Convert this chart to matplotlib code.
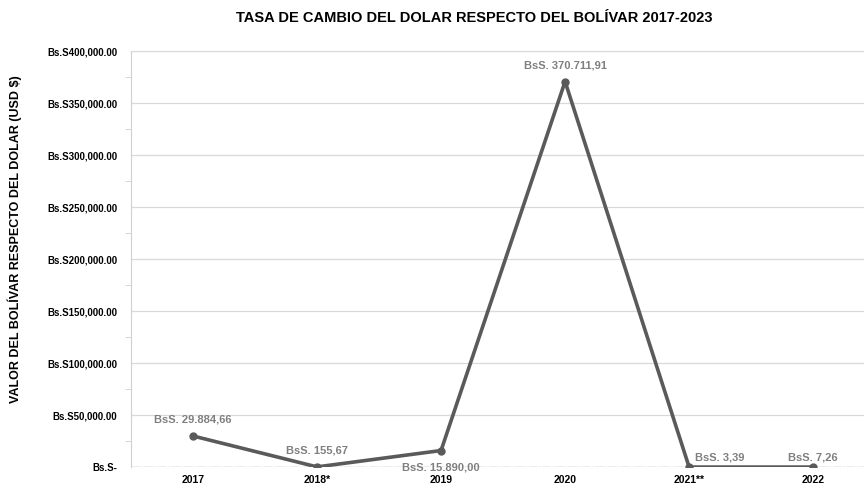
import matplotlib.pyplot as plt
import numpy as np

years = ["2017", "2018*", "2019", "2020", "2021**", "2022"]
rate = [29884.66, 155.67, 15890.00, 370711.91, 3.39, 7.26]
rate_labels = ["BsS. 29.884,66", "BsS. 155,67", "BsS. 15.890,00",
               "BsS. 370.711,91", "BsS. 3,39", "BsS. 7,26"]
yticks = [0, 50000, 100000, 150000, 200000, 250000, 300000, 350000, 400000]

plt.rcParams['font.family'] = ['Liberation Sans', 'DejaVu Sans']

fig = plt.figure(figsize=(8.64, 4.84), dpi=100)
ax = fig.add_axes([0.1516, 0.035, 1.0 - 0.1516, 0.8595])

x = np.arange(len(years))
ax.plot(x, rate, color="#5a5a5a", lw=2.6, marker="o", ms=5, zorder=3)

# where each label sits relative to its point (points offset)
offs = [(0, 8), (0, 8), (0, -12), (0, 8), (4, 3), (0, 3)]
has = ["center", "center", "center", "center", "left", "center"]
for xi, yi, lab, (dx, dy), ha in zip(x, rate, rate_labels, offs, has):
    ax.annotate(lab, (xi, yi), xytext=(dx, dy), textcoords="offset points",
                ha=ha, va="bottom" if dy > 0 else "center",
                color="#7f7f7f", fontsize=8, fontweight="bold", zorder=4)

ax.set_xlim(-0.5, 5.41)
ax.set_ylim(0, 400000)
ax.set_xticks(x)
ax.set_xticklabels(years, fontsize=7.5, fontweight="bold")
ax.set_yticks(yticks)
ax.set_yticklabels(["Bs.S-" if v == 0 else "Bs.S{:,.2f}".format(v) for v in yticks],
                   fontsize=7, fontweight="bold")
ax.set_yticks(np.arange(25000, 400000, 50000), minor=True)
ax.tick_params(axis="y", which="major", length=0, pad=10)
ax.tick_params(axis="y", which="minor", length=4, color="#d0d0d0", direction="out")
ax.tick_params(axis="x", length=0, pad=6)

ax.grid(axis="y", color="#d9d9d9", lw=0.9)
ax.axhline(0, color="#909090", lw=0.9, ls="-.", zorder=2)

for s in ["right", "bottom"]:
    ax.spines[s].set_visible(False)
ax.spines["left"].set_color("#d0d0d0")
ax.spines["top"].set_color("#d9d9d9")

fig.text(0.549, 0.962, "TASA DE CAMBIO DEL DOLAR RESPECTO DEL BOLÍVAR 2017-2023",
         ha="center", va="center", fontsize=10.5, fontweight="bold")
fig.text(0.017, 0.505, "VALOR DEL BOLÍVAR RESPECTO DEL DOLAR (USD $)",
         rotation=90, ha="center", va="center", fontsize=9, fontweight="bold")

fig.savefig("out.png", dpi=100)
